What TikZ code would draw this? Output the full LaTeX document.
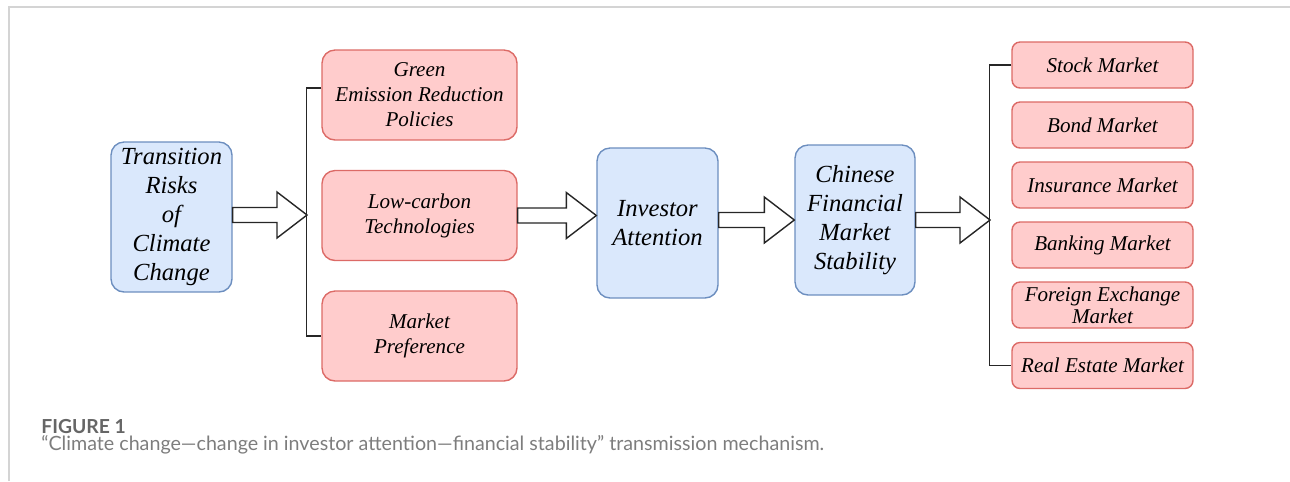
\documentclass[tikz,border=0pt]{standalone}
\usepackage{fontspec}
\setmainfont{Liberation Serif}
\newfontfamily\capfont{Lato}
\usetikzlibrary{calc}

\definecolor{bluefill}{HTML}{DAE8FC}
\definecolor{blueline}{HTML}{6C8EBF}
\definecolor{redfill}{HTML}{FFCCCC}
\definecolor{redline}{HTML}{DC6A66}
\definecolor{framegray}{HTML}{D4D4D4}
\definecolor{capgray}{HTML}{666666}

\tikzset{
  bigbox/.style={draw=blueline, fill=bluefill, line width=0.8pt, rounded corners=0.26cm,
    minimum width=2.42cm, minimum height=3cm, inner ysep=1pt, align=center,
    font=\fontsize{14}{16.5}\selectfont\itshape},
  factor/.style={draw=redline, fill=redfill, line width=0.8pt, rounded corners=0.26cm,
    minimum width=3.9cm, minimum height=1.8cm, inner ysep=1pt, align=center,
    font=\fontsize{12}{14.2}\selectfont\itshape},
  market/.style={factor, minimum width=3.62cm, minimum height=0.92cm, inner ysep=0pt,
    rounded corners=0.16cm, font=\fontsize{12}{12.5}\selectfont\itshape},
  fat/.style={draw=black!85, fill=white, line width=0.8pt, line join=miter},
  fork/.style={draw=black!85, line width=0.8pt},
}

% hollow block arrow from #1 to the tip #2
\newcommand{\fatarrow}[2]{%
  \draw[fat] ($(#1)+(0,-7.5)$) -- ($(#2)+(-30,-7.5)$) -- ($(#2)+(-30,-23)$) -- (#2)
    -- ($(#2)+(-30,23)$) -- ($(#2)+(-30,7.5)$) -- ($(#1)+(0,7.5)$) -- cycle;}

\begin{document}
\begin{tikzpicture}[x=0.02cm,y=-0.02cm]
\useasboundingbox (0,0) rectangle (1290,481);
\draw[framegray, line width=1.1pt] (9,481) -- (9,7) -- (1290,7);

% source and the three channels
\node[bigbox] (trans) at (171.5,217) {Transition\\Risks\\of\\Climate\\Change};
\node[factor] (grn) at (419.5,95) {Green\\Emission Reduction\\Policies};
\node[factor] (lowc) at (419.5,215.5) {Low-carbon\\Technologies};
\node[factor] (mkt) at (419.5,336) {Market\\Preference};

% attention and stability
\node[bigbox] (inv) at (657.5,223) {Investor\\Attention};
\node[bigbox, minimum width=2.4cm] (chn) at (855,220) {Chinese\\Financial\\Market\\Stability};

% markets
\node[market] (stock) at (1102.5,65) {Stock Market};
\node[market] (bond) at (1102.5,125) {Bond Market};
\node[market] (insur) at (1102.5,185) {Insurance Market};
\node[market] (bank) at (1102.5,245) {Banking Market};
\node[market] (forex) at (1102.5,305) {Foreign Exchange\\Market};
\node[market] (real) at (1102.5,365.5) {Real Estate Market};

% brackets
\coordinate (forkL) at (307,215);
\coordinate (forkR) at (990,220);
\draw[fork] ($(grn.west)+(0,-7)$) -- ++(-15,0) |- (mkt.west);
\draw[fork] (stock.west) -- ++(-22,0) |- (real.west);

% block arrows
\coordinate (tailA) at (trans.east |- forkL);
\coordinate (tipB) at (lowc.east -| inv.west);
\coordinate (tailC) at (inv.east |- chn.west);
\fatarrow{tailA}{forkL}
\fatarrow{lowc.east}{tipB}
\fatarrow{tailC}{chn.west}
\fatarrow{chn.east}{forkR}

% caption
\node[anchor=base west, inner sep=0, text=capgray, font=\capfont\bfseries\fontsize{11}{12}\selectfont] (figlbl) at (41,433) {FIGURE 1};
\node[anchor=base west, inner sep=0, text=capgray!85, font=\capfont\fontsize{11.2}{12}\selectfont] (figcap) at (41,450) {“Climate change—change in investor attention—financial stability” transmission mechanism.};
\end{tikzpicture}
\end{document}
